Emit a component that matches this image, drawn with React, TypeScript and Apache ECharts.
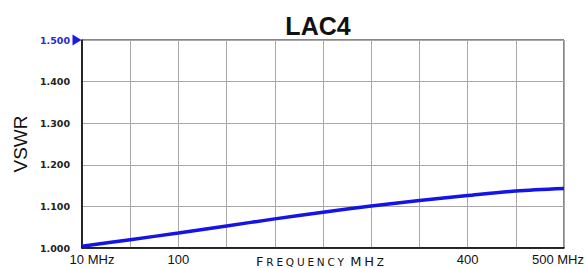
import React, { useEffect, useRef } from "react";
import * as echarts from "echarts";

const title = "LAC4";
const yAxisName = "VSWR";
const xAxisName = "{a|F}{b|R}{b|E}{b|Q}{b|U}{b|E}{b|N}{b|C}{b|Y}{s| }{a|M}{a|H}{b|Z}";
const xPositions = [0, 1, 2, 3, 4, 5, 6, 7, 8, 9, 10];
const vswrValues = [1.004, 1.02, 1.036, 1.053, 1.07, 1.086, 1.101, 1.114, 1.126, 1.137, 1.143];
const xTickLabels: Record<number, string> = { 0: "10 MHz", 2: "100", 8: "400", 10: "500 MHz" };
const yMin = 1.0;
const yMax = 1.5;
const yStep = 0.1;

export default function App() {
  const ref = useRef<HTMLDivElement>(null);
  useEffect(() => {
    if (!ref.current) return;
    const chart = echarts.init(ref.current, undefined, { renderer: "svg" });
    const sp = [0, 1.4, 0, 1.4];
    chart.setOption({
      animation: false,
      backgroundColor: "#fff",
      title: {
        text: title,
        left: 313,
        textAlign: "center",
        top: 8,
        textStyle: { fontFamily: "Liberation Sans", fontWeight: "bold", fontSize: 25, color: "#111" },
      },
      grid: {
        left: 82,
        right: 21,
        top: 40,
        bottom: 20,
        outerBoundsMode: "none",
        containLabel: false,
        show: true,
        borderColor: "#111",
        borderWidth: 1,
      },
      xAxis: {
        type: "value",
        min: 0,
        max: 10,
        interval: 1,
        axisLine: { show: true, lineStyle: { color: "#000", width: 1.5 } },
        axisTick: { show: false },
        splitLine: { show: true, lineStyle: { color: "#a8a8a8", width: 1 } },
        axisLabel: {
          margin: 5,
          showMinLabel: true,
          showMaxLabel: true,
          formatter: (v: number) => {
            const t = xTickLabels[Math.round(v)];
            if (!t) return "";
            if (v === 0) return `{l|${t}}`;
            if (v === 10) return `{r|${t}}`;
            return `{c|${t}}`;
          },
          rich: {
            l: { fontFamily: "Liberation Sans", fontSize: 13, lineHeight: 13, color: "#111", padding: [0, 0, 0, 20] },
            r: { fontFamily: "Liberation Sans", fontSize: 13, lineHeight: 13, color: "#111", padding: [0, 12, 0, 0] },
            c: { fontFamily: "Liberation Sans", fontSize: 13, lineHeight: 13, color: "#111" },
          },
        },
        name: xAxisName,
        nameLocation: "middle",
        nameGap: 8,
        nameMoveOverlap: false,
        nameTextStyle: {
          padding: [0, 6, 0, 0],
          verticalAlign: "top",
          rich: {
            a: { fontFamily: "DejaVu Sans", fontSize: 13, lineHeight: 11, color: "#111", padding: sp },
            b: { fontFamily: "DejaVu Sans", fontSize: 10.5, lineHeight: 11, color: "#111", padding: sp },
            s: { fontFamily: "DejaVu Sans", fontSize: 10.5, lineHeight: 11, color: "#111" },
          },
        },
      },
      yAxis: {
        type: "value",
        min: yMin,
        max: yMax,
        interval: yStep,
        axisLine: { show: true, lineStyle: { color: "#000", width: 1.5 } },
        axisTick: { show: false },
        splitLine: { show: true, lineStyle: { color: "#a8a8a8", width: 1 } },
        axisLabel: {
          margin: 12,
          formatter: (v: number) => (Math.abs(v - yMax) < 1e-9 ? `{b|${v.toFixed(3)}}` : `{k|${v.toFixed(3)}}`),
          rich: {
            k: { fontFamily: "DejaVu Sans", fontSize: 9.5, fontWeight: "bold", color: "#222" },
            b: { fontFamily: "DejaVu Sans", fontSize: 9.5, fontWeight: "bold", color: "#2a2ad0" },
          },
        },
        name: yAxisName,
        nameLocation: "middle",
        nameGap: 52,
        nameRotate: 90,
        nameMoveOverlap: false,
        nameTextStyle: { fontFamily: "Liberation Sans", fontSize: 19, color: "#111" },
      },
      series: [
        {
          type: "line",
          data: xPositions.map((x, i) => [x, vswrValues[i]]),
          smooth: 0.3,
          showSymbol: false,
          lineStyle: { color: "#1414e6", width: 3.5 },
          markPoint: {
            silent: true,
            symbol: "triangle",
            symbolSize: [11, 9],
            symbolRotate: -90,
            symbolOffset: [-5, 0],
            itemStyle: { color: "#1a1ae0" },
            label: { show: false },
            data: [{ coord: [0, yMax] }],
          },
        },
      ],
    });
    return () => chart.dispose();
  }, []);
  return <div ref={ref} style={{ width: 585, height: 268, position: "absolute", left: 0, top: 0 }} />;
}
